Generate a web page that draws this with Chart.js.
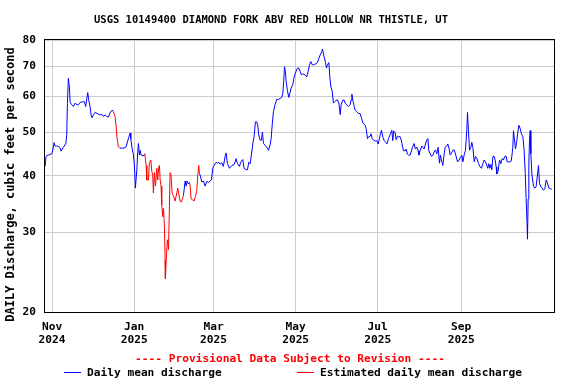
<!DOCTYPE html>
<html>
<head>
<meta charset="utf-8">
<script src="https://cdn.jsdelivr.net/npm/chart.js@4.4.0/dist/chart.umd.min.js"></script>
<style>
  html, body { margin: 0; padding: 0; background: #fff; }
  canvas { display: block; }
</style>
</head>
<body>
<canvas id="flowChart" width="576" height="384"></canvas>
<script>
// ---- data (day 0 = 1 Nov 2024) ----
const days = [
  -5.2, -4.5, -2.7, -0.2, 0.2, 1.5, 2.2, 3.5, 4.7, 5.9, 6.7, 8.4, 10.2, 10.9, 11.4, 12.1, 12.9, 13.4, 14.6, 15.9,
  17.1, 18.4, 19.6, 20.8, 22.8, 24, 25, 25.8, 26.5, 27.2, 28.2, 29, 29.7, 30.7, 32, 33.7, 35.7, 36.9, 38.1, 39.4,
  40.6, 41.9, 43.1, 43.9, 44.8, 45.6, 46.8, 47.6, 48.3, 49.3, 50.5, 52.5, 54.3, 55, 56, 57, 58, 58.5, 59.5, 60.4,
  61.2, 61.9, 63, 63.7, 64.2, 64.9, 65.4, 66.2, 67.9, 68.9, 69.9, 70.4, 71.6, 72.3, 73.4, 74.1, 74.8, 75.3, 76, 76.8,
  77.8, 78.5, 79.3, 79.8, 80.3, 81, 81.5, 82.3, 82.8, 83.5, 84, 84.2, 85, 85.7, 86.5, 87.2, 87.7, 88.4, 89.2, 90.2,
  91.4, 92.7, 93.4, 94.2, 95.1, 95.9, 96.6, 97.6, 98.9, 99.6, 100.3, 101.3, 102.1, 102.6, 103.3, 104.6, 105.5, 106.5, 107.5, 108.3,
  109, 109.5, 110, 111.3, 112.5, 113.7, 115, 116.2, 117.4, 118.4, 119.4, 120.4, 121.9, 122.9, 123.9, 124.9, 126.1, 127.3, 128.6, 129.3,
  130.3, 131.8, 133.6, 135.3, 136.8, 137.7, 139.2, 140.2, 141.7, 142.7, 144.2, 145.2, 146.2, 147.2, 148.4, 149.2, 150.1, 151.1, 152.1, 152.9,
  153.6, 154.6, 155.6, 156.3, 157.1, 158.3, 159.6, 160.8, 162, 162.8, 163.7, 164.5, 165.7, 167, 168.2, 169.5, 170.7, 171.5, 172.2, 172.7,
  173.4, 173.9, 174.9, 175.9, 176.9, 177.6, 178.9, 179.9, 180.8, 182.3, 183.4, 184.3, 185.3, 186.3, 188, 189.3, 190.3, 191.3, 192.3, 193.3,
  194.2, 196.2, 197.2, 198.2, 199.2, 200.4, 200.9, 202.2, 203.2, 203.9, 204.7, 205.7, 206.4, 207.2, 208.1, 209.1, 210.1, 211.1, 212.1, 213.1,
  214.1, 214.8, 216.1, 217, 217.8, 219, 220.3, 221.5, 222.2, 222.8, 223.5, 224.5, 225.2, 226.5, 227.7, 228.9, 229.9, 230.9, 231.9, 232.6,
  233.4, 234.4, 235.1, 236.4, 237.1, 237.8, 238.8, 240.1, 241.3, 242.3, 243.3, 244, 244.8, 245.8, 246.8, 248, 248.8, 250, 251.2, 252.5,
  253.2, 253.9, 254.9, 255.7, 256.6, 257.7, 258.4, 259.4, 260.1, 261.1, 262.4, 263.1, 264.1, 264.8, 266.1, 266.8, 267.8, 269.1, 270, 271.1,
  272, 272.6, 273.5, 274.8, 275.5, 276.5, 277.5, 278.5, 279.3, 280, 281, 282, 283, 283.9, 284.9, 285.9, 286.9, 287.9, 288.6, 289.3,
  290.4, 291.4, 292.1, 293.4, 294.1, 295.1, 295.8, 296.6, 297.8, 298.8, 300, 301.3, 302.5, 303.8, 304.5, 305.3, 306.2, 307.2, 308.2, 308.7,
  309.4, 310.2, 311.2, 311.9, 312.7, 313.7, 314.6, 315.7, 316.9, 318.1, 319.1, 320.1, 321.1, 322.1, 323.1, 323.8, 324.6, 325.3, 326.1, 326.8,
  327.6, 328.5, 329.3, 330, 330.5, 331.5, 332.5, 333.5, 334.5, 335.4, 336.5, 337.4, 338.2, 339.1, 340.4, 341.3, 342.4, 342.9, 343.6, 344.4,
  345.4, 346.1, 346.9, 347.9, 348.8, 349.9, 350.8, 351.6, 352.3, 353, 353.3, 353.8, 354.3, 354.8, 355.3, 355.8, 356.6, 357.8, 358.8, 359.7,
  360.7, 361.5, 362.2, 363.2, 364.2, 365.2, 366.2, 367.2, 368.1, 369.2, 370.2, 371.4
];
const flow = [
  42, 44.2, 44.5, 44.8, 45.2, 47.4, 46.6, 46.6, 46.5, 46.2, 45.4, 46.3, 47.2, 49.3, 57.9, 65.8, 63, 58.3, 57.5, 57,
  58, 57.5, 57.5, 58.2, 58.4, 58.4, 57, 59.3, 61.2, 59, 57, 54.6, 53.8, 54.6, 55.3, 55, 54.6, 54.8, 54.2, 54.6,
  54.2, 54, 55.3, 55.5, 56, 55.5, 54.2, 51.6, 48.4, 46.4, 46.1, 46.1, 46.2, 46.4, 47.6, 48.7, 49.8, 48.4, 45.9, 44.7,
  42.3, 37.6, 41.3, 45.5, 47.2, 44.5, 45.6, 44.5, 44.3, 44.8, 42.2, 39.2, 39.2, 42.7, 43.4, 41, 40.1, 36.7, 40.7, 38,
  41.6, 39.2, 41.9, 42.2, 39.2, 38, 34.5, 32.5, 33.9, 30.9, 26.1, 23.7, 26.8, 28.9, 27.5, 34.2, 40.7, 40.2, 36.7, 36.2,
  35.2, 36.7, 37.6, 36.5, 35.2, 35, 35.4, 36.2, 39, 38, 39, 38.4, 38.7, 38, 35.6, 35.4, 35.2, 36, 37, 40.2,
  42.2, 40.5, 40.2, 38.8, 39, 38, 38.9, 38.7, 39, 39.2, 41.6, 42.2, 42.9, 42.7, 42.9, 42.5, 42.8, 42, 44.2, 45,
  42.6, 41.6, 42.2, 42.4, 43.7, 42.6, 42, 42.9, 43.5, 41.6, 41.3, 41.3, 42.9, 42.6, 45.2, 47.2, 48.8, 52.7, 52.7, 51.6,
  49.3, 48, 48, 50, 47.2, 46.8, 46.3, 45.6, 46.8, 48.4, 52.4, 55.5, 57.5, 59.1, 59.1, 59.4, 59.7, 61, 65.2, 69.8,
  68.2, 65, 61.8, 59.7, 61.2, 62.5, 63.8, 66.3, 67.6, 69.3, 69.3, 68.2, 67, 67.3, 67, 66.3, 68.2, 70.5, 71.7, 70.5,
  70.5, 70.9, 71.3, 72.8, 74.1, 75.4, 76.4, 73.4, 71.3, 69.3, 70.5, 71.3, 66.3, 63, 61.8, 58, 58.4, 58.8, 59, 58,
  54.7, 57.5, 58.9, 58.9, 58, 57.5, 57, 57.5, 58.9, 60.7, 58.9, 57, 56, 55.5, 55, 55, 53.8, 52.4, 52.2, 51.8,
  50.9, 48.4, 48.8, 49, 49.6, 48.4, 48.1, 47.8, 47.9, 47.1, 48.4, 49.6, 50.5, 48.8, 47.9, 47.5, 47.1, 48.4, 49.4, 50.5,
  47.9, 50.3, 50, 48.1, 49, 48.8, 49, 48.1, 47.1, 45.5, 45.5, 45.9, 44.7, 44.5, 44.5, 45.2, 46.3, 47.2, 45.9, 46.3,
  45.5, 44.5, 45.5, 46.6, 46.3, 45.9, 47.1, 48.1, 48.4, 45.5, 44.8, 44.2, 44.5, 45.2, 45.7, 44.8, 46.3, 42.7, 44.5, 43.4,
  42.2, 44.8, 46.3, 46.6, 47.1, 45.9, 44.5, 44.8, 45.6, 45.7, 44.5, 43, 43.4, 44.2, 44.5, 43, 44.5, 45.6, 50.5, 55.3,
  50.7, 45.6, 46.3, 47.5, 46.3, 43, 44.2, 43.8, 42.6, 41.9, 41.6, 42.6, 43.4, 43, 42.2, 41.6, 42.6, 41.6, 42.4, 41.3,
  44.2, 44.2, 43.4, 41.9, 40.4, 41, 43.4, 42.6, 43.7, 43.4, 44.2, 44.3, 43, 43, 43, 43.2, 46.3, 50.4, 48.1, 45.9,
  48, 50, 51.8, 50.9, 49.6, 48.8, 45.5, 40.7, 35.6, 31.2, 29, 35.6, 42.6, 48, 50.4, 44.8, 40.2, 38, 37.6, 37.9,
  40.2, 42.2, 38.5, 37.9, 37.6, 37.2, 37.5, 39.2, 38.6, 37.6, 37.5, 37.4
];
// periods where the daily mean is estimated (drawn red)
const estimatedRanges = [[45.6, 50.5], [68.9, 97.6], [102.1, 109.5]];

const monthTicks = [0, 61, 120, 181, 242, 304];
const monthLabels = [['Nov', '2024'], ['Jan', '2025'], ['Mar', '2025'], ['May', '2025'], ['Jul', '2025'], ['Sep', '2025']];
const yTicks = [20, 30, 40, 50, 60, 70, 80];

const titleText = 'USGS 10149400 DIAMOND FORK ABV RED HOLLOW NR THISTLE, UT';
const yTitleText = 'DAILY Discharge, cubic feet per second';
const noteText = '---- Provisional Data Subject to Revision ----';
const legendNames = ['Daily mean discharge', 'Estimated daily mean discharge'];

const BLUE = '#0000ff';
const RED = '#ff0000';
const MONO = '"DejaVu Sans Mono", "Liberation Mono", monospace';

const isEstimated = (d) => estimatedRanges.some(([a, b]) => d >= a && d <= b);

// texte + cadre dessines a la main pour coller au placement USGS
const pageText = {
    id: 'pageText',
    afterDraw(chart) {
        const ctx = chart.ctx;
        const a = chart.chartArea;
        ctx.save();

        // cadre noir du graphique
        ctx.strokeStyle = '#000';
        ctx.lineWidth = 1;
        ctx.strokeRect(Math.round(a.left) + 0.5, Math.round(a.top) - 0.5,
            Math.round(a.right - a.left), Math.round(a.bottom - a.top) + 1);

        ctx.fillStyle = '#000';
        ctx.textBaseline = 'middle';

        // titre
        ctx.font = 'bold 10.5px ' + MONO;
        ctx.textAlign = 'center';
        ctx.fillText(titleText, 271, 20.5);

        // titre axe Y (vertical)
        ctx.save();
        ctx.translate(11, 184.5);
        ctx.rotate(-Math.PI / 2);
        ctx.font = 'bold 12px ' + MONO;
        ctx.fillText(yTitleText, 0, 0);
        ctx.restore();

        // mention provisoire
        ctx.font = 'bold 11.2px ' + MONO;
        ctx.fillStyle = RED;
        ctx.fillText(noteText, 290, 359);

        // legende
        ctx.textAlign = 'left';
        const items = [[64, BLUE, legendNames[0]], [297, RED, legendNames[1]]];
        items.forEach(([x, color, label]) => {
            ctx.strokeStyle = color;
            ctx.beginPath();
            ctx.moveTo(x, 372.5);
            ctx.lineTo(x + 17, 372.5);
            ctx.stroke();
            ctx.fillStyle = '#000';
            ctx.fillText(label, x + 23, 373);
        });

        ctx.restore();
    }
};

new Chart(document.getElementById('flowChart'), {
    type: 'line',
    data: {
        datasets: [{
            label: legendNames[0],
            data: days.map((d, i) => ({ x: d, y: flow[i] })),
            borderColor: BLUE,
            borderWidth: 1,
            pointRadius: 0,
            tension: 0,
            fill: false,
            segment: {
                borderColor: (c) => (isEstimated(c.p0.parsed.x) && isEstimated(c.p1.parsed.x)) ? RED : BLUE
            }
        }]
    },
    options: {
        responsive: false,
        animation: false,
        layout: { padding: { top: 40, right: 22, bottom: 0, left: 0 } },
        plugins: {
            legend: { display: false },
            title: { display: false },
            tooltip: { enabled: false }
        },
        scales: {
            x: {
                type: 'linear',
                min: -6,
                max: 373,
                afterBuildTicks: (s) => { s.ticks = monthTicks.map(v => ({ value: v })); },
                afterFit: (s) => { s.height = 72; },
                grid: { color: '#cccccc', lineWidth: 1, drawTicks: false },
                border: { display: false },
                ticks: {
                    autoSkip: false,
                    maxRotation: 0,
                    padding: 8,
                    color: '#000',
                    font: { family: MONO, size: 11.2, weight: 'bold' },
                    callback: (v) => monthLabels[monthTicks.indexOf(v)]
                }
            },
            y: {
                type: 'logarithmic',
                min: 20,
                max: 80,
                afterBuildTicks: (s) => { s.ticks = yTicks.map(v => ({ value: v })); },
                afterFit: (s) => { s.width = 44; },
                grid: { color: '#cccccc', lineWidth: 1, drawTicks: false },
                border: { display: false },
                ticks: {
                    padding: 8,
                    color: '#000',
                    font: { family: MONO, size: 11.2, weight: 'bold' },
                    callback: (v) => String(v)
                }
            }
        }
    },
    plugins: [pageText]
});
</script>
</body>
</html>
